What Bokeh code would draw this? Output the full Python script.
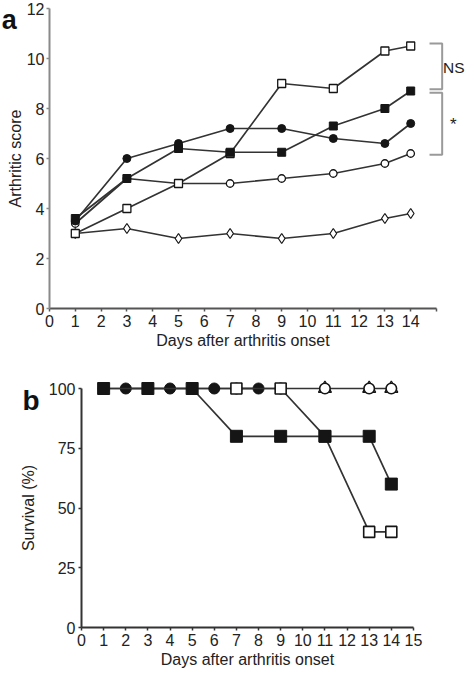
from bokeh.plotting import figure
from bokeh.layouts import column
from bokeh.models import Range1d, FixedTicker, Label
from bokeh.embed import file_html
from bokeh.resources import INLINE

# ---------------- data: panel a (arthritic score) ----------------
days_a = [1, 3, 5, 7, 9, 11, 13, 14]
open_sq_a = [3.0, 4.0, 5.0, 6.2, 9.0, 8.8, 10.3, 10.5]
filled_sq_a = [3.6, 5.2, 6.4, 6.25, 6.25, 7.3, 8.0, 8.7]
filled_circ_a = [3.5, 6.0, 6.6, 7.2, 7.2, 6.8, 6.6, 7.4]
open_circ_a = [3.4, 5.2, 5.0, 5.0, 5.2, 5.4, 5.8, 6.2]
open_diam_a = [3.0, 3.2, 2.8, 3.0, 2.8, 3.0, 3.6, 3.8]
xticks_a = list(range(0, 16))
yticks_a = [0, 2, 4, 6, 8, 10, 12]

# ---------------- data: panel b (survival) ----------------
days_b_fsq = [1, 3, 5, 7, 9, 11, 13, 14]
surv_b_fsq = [100, 100, 100, 80, 80, 80, 80, 60]
days_b_fc = [2, 4, 6, 8]
surv_b_fc = [100, 100, 100, 100]
days_b_osq = [7, 9, 11, 13, 14]
surv_b_osq = [100, 100, 80, 40, 40]
days_b_oc = [1, 3, 5, 7, 9, 11, 13, 14]
surv_b_oc = [100, 100, 100, 100, 100, 100, 100, 100]
days_b_tri = [11, 13, 14]
surv_b_tri = [100, 100, 100]
xticks_b = list(range(0, 16))
yticks_b = [0, 25, 50, 75, 100]

FONT = "Liberation Sans"
LINE = "#333333"
INK = "#151515"
TXT = "#222222"

W = 466
HA = 352
HB = 317


def style_axes(p, xcol, ycol):
    for ax, col in ((p.xaxis[0], xcol), (p.yaxis[0], ycol)):
        ax.axis_line_color = col
        ax.axis_line_width = 2
        ax.major_tick_line_color = col
        ax.major_tick_line_width = 1.5
        ax.major_tick_in = 0
        ax.major_tick_out = 3
        ax.minor_tick_line_color = None
        ax.major_label_text_font = FONT
        ax.major_label_text_font_size = "16px"
        ax.major_label_text_color = TXT
        ax.axis_label_text_font = FONT
        ax.axis_label_text_font_size = "16px"
        ax.axis_label_text_font_style = "normal"
        ax.axis_label_text_color = TXT
        ax.major_label_standoff = 3
        ax.fixed_location = 0
    p.grid.visible = False
    p.outline_line_color = None


# ================= panel a =================
# pixel mapping: x=0 at px 49, 25.8 px/unit ; y=0 at py 308, 25 px/unit
sxa, sya = 25.8, 25.0
pa = figure(width=W, height=HA, output_backend="svg", toolbar_location=None,
            x_range=Range1d(-49 / sxa, (W - 49) / sxa),
            y_range=Range1d(-(HA - 308) / sya, 308 / sya),
            min_border=0, min_border_left=0, min_border_right=0,
            min_border_top=0, min_border_bottom=0)
style_axes(pa, "#555555", "#8a8a8a")
pa.xaxis.ticker = FixedTicker(ticks=xticks_a)
pa.xaxis.major_label_overrides = {15: ""}
pa.xaxis.bounds = (0, 15)
pa.yaxis.ticker = FixedTicker(ticks=yticks_a)
pa.yaxis.bounds = (0, 12)
pa.xaxis.axis_label = "Days after arthritis onset"
pa.yaxis.axis_label = "Arthritic score"
pa.xaxis.axis_label_standoff = 2
pa.yaxis.axis_label_standoff = 0
pa.yaxis.major_label_standoff = 2

lw = 1.7
pa.line(days_a, open_diam_a, line_color=LINE, line_width=lw)
pa.scatter(days_a, open_diam_a, marker="diamond", size=10, fill_color="white",
           line_color=INK, line_width=1.2)
pa.line(days_a, open_circ_a, line_color=LINE, line_width=lw)
pa.scatter(days_a, open_circ_a, marker="circle", size=7.5, fill_color="white",
           line_color=INK, line_width=1.3)
pa.line(days_a, filled_circ_a, line_color=LINE, line_width=lw)
pa.scatter(days_a, filled_circ_a, marker="circle", size=8, fill_color=INK,
           line_color=INK)
pa.line(days_a, open_sq_a, line_color=LINE, line_width=lw)
pa.scatter(days_a, open_sq_a, marker="square", size=8, fill_color="white",
           line_color=INK, line_width=1.3)
pa.line(days_a, filled_sq_a, line_color=LINE, line_width=lw)
pa.scatter(days_a, filled_sq_a, marker="square", size=8, fill_color=INK,
           line_color=INK)

# significance brackets derived from the end values
end_day = days_a[-1]
bx0 = end_day + 0.73
bx1 = end_day + 1.22
top = open_sq_a[-1] + 0.1
mid = filled_sq_a[-1]
bot = open_circ_a[-1] - 0.05
BR = "#9a9a9a"
pa.line([bx0, bx1, bx1, bx0], [top, top, mid + 0.07, mid + 0.07], line_color=BR, line_width=2)
pa.line([bx0, bx1, bx1, bx0], [mid - 0.07, mid - 0.07, bot, bot], line_color=BR, line_width=2)
pa.add_layout(Label(x=bx1 + 0.03, y=(top + mid) / 2, text="NS", text_font=FONT,
                    text_font_size="15.5px", text_color=TXT,
                    text_baseline="middle", text_align="left"))
pa.add_layout(Label(x=bx1 + 0.3, y=(mid + bot) / 2 - 0.05, text="*", text_font=FONT,
                    text_font_size="17px", text_color=TXT,
                    text_baseline="middle", text_align="left"))
pa.add_layout(Label(x=-1.85, y=11.55, text="a", text_font=FONT,
                    text_font_size="27px", text_font_style="bold",
                    text_color="#111111", text_baseline="alphabetic", text_align="left"))

# ================= panel b =================
# pixel mapping: x=0 at px 81, 22.13 px/unit ; y=0 at py 275 (in panel), 2.39 px/unit
sxb, syb = 22.13, 2.39
y0b = 275
pb = figure(width=W, height=HB, output_backend="svg", toolbar_location=None,
            x_range=Range1d(-81 / sxb, (W - 81) / sxb),
            y_range=Range1d(-(HB - y0b) / syb, y0b / syb),
            min_border=0, min_border_left=0, min_border_right=0,
            min_border_top=0, min_border_bottom=0)
style_axes(pb, "#333333", "#333333")
pb.xaxis.ticker = FixedTicker(ticks=xticks_b)
pb.xaxis.bounds = (0, 15)
pb.yaxis.ticker = FixedTicker(ticks=yticks_b)
pb.yaxis.bounds = (0, 100)
pb.xaxis.axis_label = "Days after arthritis onset"
pb.yaxis.axis_label = "Survival (%)"
pb.xaxis.axis_label_standoff = 2
pb.yaxis.axis_label_standoff = 9

lwb = 1.7
pb.line(days_b_oc, surv_b_oc, line_color=LINE, line_width=lwb)
pb.scatter(days_b_tri, surv_b_tri, marker="triangle", size=13, fill_color="white",
           line_color=INK, line_width=1.3)
pb.scatter(days_b_oc, surv_b_oc, marker="circle", size=10.5, fill_color="white",
           line_color=INK, line_width=1.6)
pb.line(days_b_fc, surv_b_fc, line_color=LINE, line_width=lwb)
pb.scatter(days_b_fc, surv_b_fc, marker="circle", size=11, fill_color=INK,
           line_color=INK)
pb.line(days_b_osq, surv_b_osq, line_color=LINE, line_width=lwb)
pb.scatter(days_b_osq, surv_b_osq, marker="square", size=11, fill_color="white",
           line_color=INK, line_width=1.6)
pb.line(days_b_fsq, surv_b_fsq, line_color=LINE, line_width=lwb)
pb.scatter(days_b_fsq, surv_b_fsq, marker="square", size=12, fill_color=INK,
           line_color=INK)
pb.add_layout(Label(x=-2.67, y=95.0, text="b", text_font=FONT,
                    text_font_size="28px", text_font_style="bold",
                    text_color="#111111", text_baseline="alphabetic", text_align="left"))

p = column(pa, pb)
open("out.html", "w").write(file_html(p, INLINE))
